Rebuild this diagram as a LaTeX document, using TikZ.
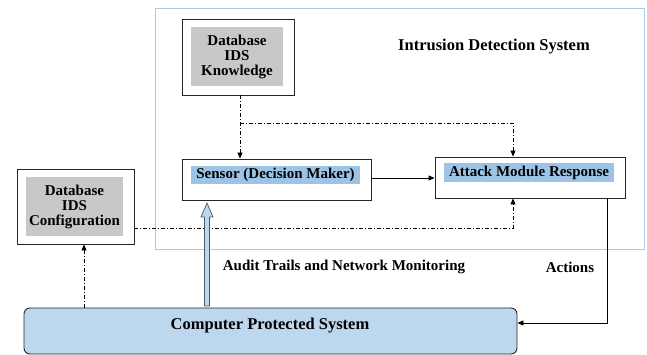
\documentclass[tikz,border=0pt]{standalone}
\usepackage{fontspec}
\setmainfont{Liberation Serif}
\usetikzlibrary{arrows.meta,calc}
\definecolor{framebl}{HTML}{A9CBEA}
\definecolor{hlbl}{HTML}{9DC3E6}
\definecolor{cmpbl}{HTML}{BDD7EE}
\definecolor{gry}{HTML}{C8C8C8}
\tikzset{
  outerbox/.style={draw=black!85, line width=0.9pt, fill=white, inner sep=0pt},
  graybox/.style={fill=gry, inner sep=0pt, align=center, font=\fontsize{15}{17}\selectfont\bfseries},
  hlbox/.style={fill=hlbl, inner sep=0pt, font=\fontsize{15}{17}\selectfont\bfseries},
  lbl/.style={font=\fontsize{15}{17}\selectfont\bfseries, inner sep=0pt},
  biglbl/.style={font=\fontsize{16.5}{18}\selectfont\bfseries, inner sep=0pt},
  dd/.style={line width=0.8pt, dash pattern=on 4pt off 2pt on 1pt off 2pt, -{Triangle[length=6pt,width=5pt]}},
  solidarr/.style={line width=0.9pt, -{Triangle[length=6pt,width=5pt]}}
}
\begin{document}
\begin{tikzpicture}[x=1pt,y=-1pt]
\useasboundingbox (0,0) rectangle (647,355);
% IDS frame
\draw[framebl, line width=0.9pt] (155,8) rectangle (644,249);
\node[biglbl] (title) at (494,47) {Intrusion Detection System};
% Knowledge
\node[outerbox, minimum width=112pt, minimum height=76pt] (know) at (238,57) {};
\node[graybox, minimum width=92pt, minimum height=59pt] (knowin) at (237,56.5) {Database\\[-2pt]IDS\\[-2pt]Knowledge};
% Sensor
\node[outerbox, minimum width=189pt, minimum height=41pt] (sensor) at (276.5,179.5) {};
\node[hlbox, minimum width=169pt, minimum height=18pt] (sensorin) at (275.5,175) {Sensor (Decision Maker)};
% Attack
\node[outerbox, minimum width=190pt, minimum height=41pt] (attack) at (530,177.5) {};
\node[hlbox, minimum width=170pt, minimum height=19pt] (attackin) at (529,172.5) {Attack Module Response};
% Config
\node[outerbox, minimum width=117pt, minimum height=75pt] (config) at (75.5,206.5) {};
\node[graybox, minimum width=97pt, minimum height=59pt] (configin) at (74.5,206.5) {Database\\[-2pt]IDS\\[-2pt]Configuration};
% Computer
\node[draw=black!85, line width=0.9pt, fill=cmpbl, rounded corners=6pt, minimum width=493pt, minimum height=46pt, biglbl] (comp) at (270.5,331) {};
\node[biglbl] (comptext) at (270,326) {Computer Protected System};
% labels
\node[lbl] (audit) at (344,267) {Audit Trails and Network Monitoring};
\node[lbl] (actions) at (570,267) {Actions};
% coordinates for connectors
\coordinate (kb) at (know.south -| 240,0);
\coordinate (st) at (sensor.north -| 240,0);
\coordinate (br) at (240,123);
\coordinate (at) at (attack.north -| 513,0);
\coordinate (ab) at (attack.south -| 513,0);
\coordinate (ce) at (config.east |- 0,228);
\coordinate (cs) at (config.south -| 84,0);
\coordinate (cn) at (comp.north -| 84,0);
\coordinate (aa) at (attack.south -| 607,0);
\coordinate (ce2) at (comp.east |- 0,323);
% connectors
\draw[dd] (kb) -- (st);
\draw[dd] (br) -| (at);
\draw[dd] (ce) -| (ab);
\draw[dd] (cn) -- (cs);
\draw[solidarr] (sensor.east |- 0,178) -- (attack.west |- 0,178);
\draw[solidarr] (aa) |- (ce2);
% thick hollow arrow
\draw[draw=black!55!hlbl, fill=cmpbl, line width=0.7pt]
  (204.5,306) -- (204.5,217) -- (201,217) -- (207,203) -- (213,217) -- (209.5,217) -- (209.5,306) -- cycle;
\end{tikzpicture}
\end{document}
